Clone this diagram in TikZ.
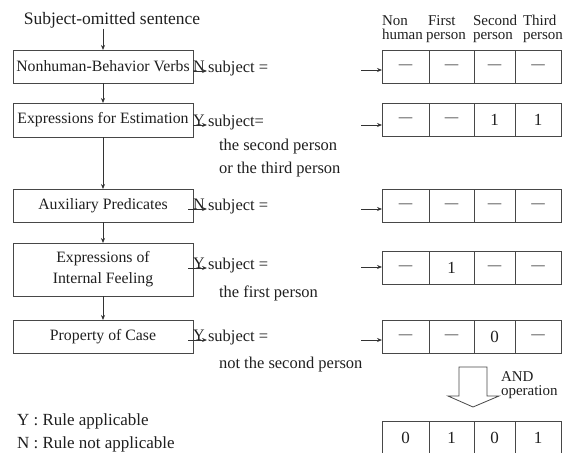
\documentclass[tikz,border=0pt]{standalone}
\usepackage{fontspec}
\setmainfont{Liberation Serif}
\usetikzlibrary{arrows.meta}

% one table row of four cells; #1 name prefix, #2 centre y, #3-#6 cell texts
\newcommand{\cellrow}[6]{%
  \node[tcell, minimum width=47pt] (#1a) at (405.5,#2) {#3};
  \node[tcell, minimum width=45pt] (#1b) at (451.5,#2) {#4};
  \node[tcell, minimum width=41pt] (#1c) at (494.5,#2) {#5};
  \node[tcell, minimum width=46pt] (#1d) at (538,#2) {#6};
}
\newcommand{\nd}{{\fontsize{13.5}{13.5}\selectfont —}}

\begin{document}
\begin{tikzpicture}[x=1pt,y=-1pt,
  every node/.style={inner sep=0pt, outer sep=0pt, text=black!88},
  edgeline/.style={draw=black!72, line width=0.9pt},
  rulebox/.style={edgeline, minimum width=180pt, align=center,
                  font=\fontsize{15.8}{21}\selectfont},
  tcell/.style={edgeline, minimum height=33pt, font=\fontsize{17}{17}\selectfont},
  sidetext/.style={anchor=base west, font=\fontsize{16.5}{16.5}\selectfont},
  yn/.style={anchor=south, font=\fontsize{16}{16}\selectfont},
  head/.style={anchor=base west, font=\fontsize{15}{15}\selectfont},
  flowarrow/.style={draw=black!80, line width=0.8pt,
                    -{Stealth[length=5pt,width=4pt]}},
]
\useasboundingbox (0,0) rectangle (575,452);

% flow of rules
\node[anchor=base, font=\fontsize{17.5}{17.5}\selectfont] (title) at (112,25)
  {Subject-omitted sentence};
\node[rulebox, minimum height=33pt] (b1) at (103,66.5) {Nonhuman-Behavior Verbs};
\node[rulebox, minimum height=34pt] (b2) at (103,120) {Expressions for Estimation};
\node[rulebox, minimum height=33pt] (b3) at (103,205.5) {Auxiliary Predicates};
\node[rulebox, minimum height=53pt] (b4) at (103,269.5) {Expressions of\\Internal Feeling};
\node[rulebox, minimum height=33pt] (b5) at (103,336.5) {Property of Case};

\draw[flowarrow] (b1.north |- title.south) -- (b1.north);
\draw[flowarrow] (b1) -- (b2);
\draw[flowarrow] (b2) -- (b3);
\draw[flowarrow] (b3) -- (b4);
\draw[flowarrow] (b4) -- (b5);

% outcome of each rule
\coordinate (a1) at (207,71);
\coordinate (a2) at (207,125);
\coordinate (a3) at (207,209);
\coordinate (a4) at (207,268);
\coordinate (a5) at (207,340);
\draw[flowarrow] (b1.east |- a1) -- (a1);
\draw[flowarrow] (b2.east |- a2) -- (a2);
\draw[flowarrow] ([xshift=-5pt]b3.east |- a3) -- (a3);
\draw[flowarrow] ([xshift=-5pt]b4.east |- a4) -- (a4);
\draw[flowarrow] ([xshift=-5pt]b5.east |- a5) -- (a5);

\node[yn] (n1) at (199,71) {N};
\node[yn] (y2) at (199,125) {Y};
\node[yn] (n3) at (199,209) {N};
\node[yn] (y4) at (199,268) {Y};
\node[yn] (y5) at (199,340) {Y};

\node[sidetext] (s1) at (208,72.5) {subject =};
\node[sidetext] (s2) at (208,126.5) {subject=};
\node[sidetext] (s2b) at (219,150) {the second person};
\node[sidetext] (s2c) at (219,173.5) {or the third person};
\node[sidetext] (s3) at (208,210.5) {subject =};
\node[sidetext] (s4) at (208,269.5) {subject =};
\node[sidetext] (s4b) at (219,297) {the first person};
\node[sidetext] (s5) at (208,341.5) {subject =};
\node[sidetext] (s5b) at (219,368) {not the second person};

% column headings
\node[head] (h1) at (382,25.5) {Non};
\node[head] (h2) at (428,25.5) {First};
\node[head] (h3) at (473,25.5) {Second};
\node[head] (h4) at (523,25.5) {Third};
\node[head] (h5) at (382,39.5) {human};
\node[head] (h6) at (426,39.5) {person};
\node[head] (h7) at (473,39.5) {person};
\node[head] (h8) at (523,39.5) {person};

% person vectors
\cellrow{t1}{66.5}{\nd}{\nd}{\nd}{\nd}
\cellrow{t2}{120}{\nd}{\nd}{1}{1}
\cellrow{t3}{205.5}{\nd}{\nd}{\nd}{\nd}
\cellrow{t4}{268}{\nd}{1}{\nd}{\nd}
\cellrow{t5}{336.5}{\nd}{\nd}{0}{\nd}
\cellrow{t6}{437.5}{0}{1}{0}{1}

\coordinate (p1) at (361,70);
\coordinate (p2) at (361,125);
\coordinate (p3) at (361,209);
\coordinate (p4) at (361,267);
\coordinate (p5) at (361,340);
\draw[flowarrow] (p1) -- (t1a.west |- p1);
\draw[flowarrow] (p2) -- (t2a.west |- p2);
\draw[flowarrow] (p3) -- (t3a.west |- p3);
\draw[flowarrow] (p4) -- (t4a.west |- p4);
\draw[flowarrow] (p5) -- (t5a.west |- p5);

% hollow AND arrow
\draw[edgeline, line width=0.8pt, line join=miter]
  (459,367) -- (487,367) -- (487,396) -- (499,396) -- (473,407)
  -- (448,396) -- (459,396) -- cycle;
\node[sidetext, font=\fontsize{15}{15}\selectfont] (and1) at (501,381.5) {AND};
\node[sidetext, font=\fontsize{15}{15}\selectfont] (and2) at (501,395.5) {operation};

% legend
\node[sidetext, font=\fontsize{17}{17}\selectfont] (lg1) at (17,425) {Y : Rule applicable};
\node[sidetext, font=\fontsize{17}{17}\selectfont] (lg2) at (17,448) {N : Rule not applicable};
\end{tikzpicture}
\end{document}
